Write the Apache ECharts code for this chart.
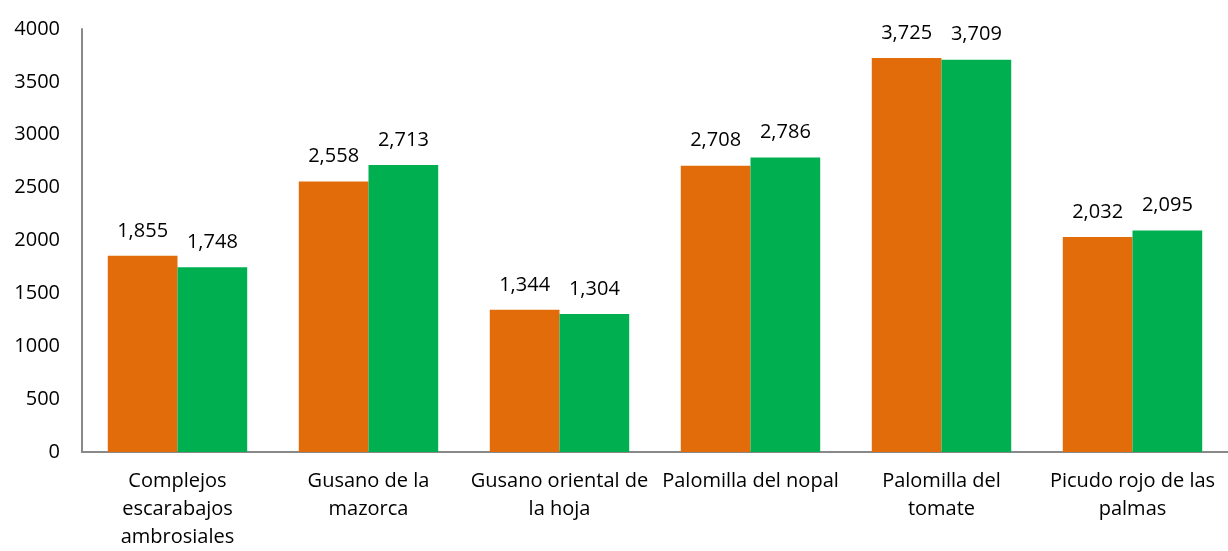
<!DOCTYPE html>
<html lang="es">
<head>
    <meta charset="UTF-8">
    <title>Plagas</title>
    <script type="text/javascript" src="https://cdn.jsdelivr.net/npm/echarts@6/dist/echarts.min.js"></script>
    <style>
        html, body { margin: 0; padding: 0; background: #fff; }
        #main { width: 1228px; height: 551px; }
    </style>
</head>
<body>
<div id="main"></div>
<script type="text/javascript">
    // categorias (con saltos de linea como en el original)
    var categories = [
        'Complejos\nescarabajos\nambrosiales',
        'Gusano de la\nmazorca',
        'Gusano oriental de\nla hoja',
        'Palomilla del nopal',
        'Palomilla del\ntomate',
        'Picudo rojo de las\npalmas'
    ];
    var serieNaranja = [1855, 2558, 1344, 2708, 3725, 2032];
    var serieVerde = [1748, 2713, 1304, 2786, 3709, 2095];
    var yTicks = [0, 500, 1000, 1500, 2000, 2500, 3000, 3500, 4000];

    var fontFam = "'Open Sans', 'Noto Sans', sans-serif";

    function fmt(p) {
        return p.value.toLocaleString('en-US');
    }

    var myChart = echarts.init(document.getElementById('main'));
    var option = {
        backgroundColor: '#ffffff',
        animation: false,
        grid: { left: 82, right: 0, top: 29, bottom: 97 },
        xAxis: {
            type: 'category',
            data: categories,
            axisLine: { lineStyle: { color: '#898989', width: 2 } },
            axisTick: { show: false },
            axisLabel: {
                color: '#000', fontSize: 20, fontFamily: fontFam,
                lineHeight: 28, margin: 15, interval: 0, align: 'center'
            }
        },
        yAxis: {
            type: 'value',
            min: yTicks[0],
            max: yTicks[yTicks.length - 1],
            interval: 500,
            splitLine: { show: false },
            axisLine: { show: true, lineStyle: { color: '#898989', width: 2 } },
            axisTick: { show: false },
            axisLabel: {
                color: '#000', fontSize: 20, fontFamily: fontFam, margin: 22,
                formatter: function (v) { return String(v); }
            }
        },
        series: [
            {
                name: 'A',
                type: 'bar',
                data: serieNaranja,
                barGap: '0%',
                barCategoryGap: '27%',
                itemStyle: { color: '#E36C0A' },
                label: {
                    show: true, position: 'top', distance: 15,
                    color: '#000', fontSize: 20, fontFamily: fontFam, formatter: fmt
                }
            },
            {
                name: 'B',
                type: 'bar',
                data: serieVerde,
                itemStyle: { color: '#00B050' },
                label: {
                    show: true, position: 'top', distance: 15,
                    color: '#000', fontSize: 20, fontFamily: fontFam, formatter: fmt
                }
            }
        ]
    };
    myChart.setOption(option);
</script>
</body>
</html>
